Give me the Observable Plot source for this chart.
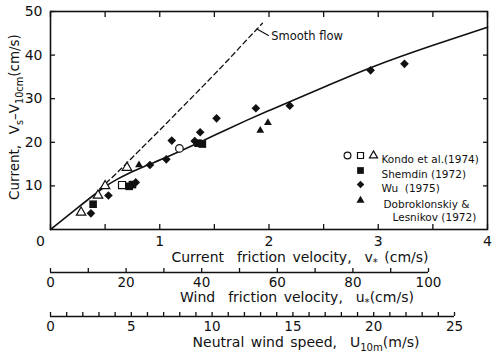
<!DOCTYPE html>
<html><head><meta charset="utf-8">
<script src="https://cdn.jsdelivr.net/npm/d3@7"></script>
<script src="https://cdn.jsdelivr.net/npm/@observablehq/plot@0.6"></script>
<style>
body{margin:0;background:#fff;}
#chart{width:500px;height:355px;}
#chart svg{display:block;}
</style></head><body><div id="chart"></div>
<script>
// ---- data ----
const kondoCircle = [[1.18, 18.6]];
const kondoSquare = [[0.655, 10.2]];
const kondoTriangle = [[0.28, 3.9], [0.435, 7.8], [0.50, 10.0], [0.70, 14.2]];
const shemdin = [[0.39, 5.8], [0.72, 9.9], [0.75, 10.3], [1.35, 19.8], [1.39, 19.6]];
const wu = [[0.37, 3.7], [0.53, 7.8], [0.78, 10.8], [0.91, 14.8], [1.06, 16.1], [1.11, 20.4],
            [1.32, 20.3], [1.37, 22.3], [1.52, 25.5], [1.88, 27.8], [2.19, 28.4], [2.93, 36.5], [3.24, 38.0]];
const dobroklonskiy = [[0.81, 14.8], [1.92, 22.7], [1.99, 24.5]];
const fitCurve = [[0, 0], [0.25, 5.0], [0.5, 10.0], [0.6, 11.4], [0.7, 12.7], [0.8, 13.8], [0.9, 14.9],
                  [1.0, 15.9], [1.2, 18.1], [1.4, 20.4], [1.6, 22.8], [1.8, 25.1], [2.0, 27.3], [2.2, 29.4],
                  [2.5, 32.6], [2.93, 37.3], [3.5, 42.3], [4.0, 46.4]];
const smoothFlow = [[0.45, 9.3], [0.6, 12.8], [0.8, 17.8], [1.0, 22.8], [1.2, 27.9], [1.4, 33.0],
                    [1.6, 38.2], [1.8, 43.6], [1.94, 47.3]];
const smoothLeader = [[1.89, 46.0], [1.995, 44.5]];
const smoothLabel = "Smooth flow";
const smoothLabelAt = [[2.02, 44.4]];

const xDomain = [0, 4];
const yDomain = [0, 50];
const xTickMarks = [0, 0.5, 1, 1.5, 2, 2.5, 3, 3.5, 4];
const xTickLabels = [1, 2, 3, 4];
const originLabel = [0];
const yTickLabels = [10, 20, 30, 40, 50];
const yTickMarksLeft = [10, 20, 30, 40, 50];
const yTickMarksRight = [10, 20, 30, 40];

const windDomain = [0, 100];
const windTicks = [0, 10, 20, 30, 40, 50, 60, 70, 80, 90, 100];
const windLabels = [0, 20, 40, 60, 80, 100];
const neutralDomain = [0, 25];
const neutralTicks = [0, 1, 2, 3, 4, 5, 6, 7, 8, 9, 10, 11, 12, 13, 14, 15, 16, 17, 18, 19, 20, 21, 22, 23, 24, 25];
const neutralLabels = [0, 5, 10, 15, 20, 25];

const legendLabels = ["Kondo et al.(1974)", "Shemdin (1972)", "Wu  (1975)", "Dobroklonskiy &", "Lesnikov (1972)"];

// ---- styling ----
const FONT = "DejaVu Sans, Liberation Sans, sans-serif";
const INK = "#111";
const baseStyle = {fontFamily: FONT, fontSize: "14px", color: INK, background: "#fff", overflow: "visible"};

function addText(svg, x, y, parts, {size = 14, rotate = 0, anchor = "middle", wordSpacing = 2} = {}) {
  const t = d3.select(svg).append("text")
    .attr("transform", `translate(${x},${y}) rotate(${rotate})`)
    .attr("text-anchor", anchor)
    .attr("fill", INK)
    .style("font-family", FONT)
    .style("font-size", size + "px")
    .style("word-spacing", wordSpacing + "px")
    .attr("xml:space", "preserve");
  const subSize = size * 0.72;
  const shift = size * 0.3;
  let lowered = false;
  for (const [s, sub] of parts) {
    const sp = t.append("tspan").text(s);
    if (sub) {
      sp.style("font-size", subSize + "px").attr("dy", shift);
      lowered = true;
    } else if (lowered) {
      sp.attr("dy", -shift);
      lowered = false;
    }
  }
}

const legendRows = [144, 159, 173, 189, 202];

const main = Plot.plot({
  width: 500, height: 266,
  marginLeft: 50, marginRight: 13, marginTop: 11, marginBottom: 37,
  x: {domain: xDomain},
  y: {domain: yDomain},
  style: baseStyle,
  marks: [
    Plot.frame({stroke: INK, strokeWidth: 1.6}),
    Plot.axisX(xTickMarks, {anchor: "bottom", tickSize: -5, tickFormat: () => "", strokeWidth: 1.3}),
    Plot.axisX(xTickMarks, {anchor: "top", tickSize: -5, tickFormat: () => "", strokeWidth: 1.3}),
    Plot.axisX(xTickLabels, {anchor: "bottom", tickSize: 0, tickPadding: 7, label: null, fontSize: 14}),
    Plot.axisX(originLabel, {anchor: "bottom", tickSize: 0, tickPadding: 7, dx: -10, label: null, fontSize: 14}),
    Plot.axisY(yTickMarksLeft, {anchor: "left", tickSize: -5, tickFormat: () => "", strokeWidth: 1.3}),
    Plot.axisY(yTickMarksRight, {anchor: "right", tickSize: -5, tickFormat: () => "", strokeWidth: 1.3}),
    Plot.axisY(yTickLabels, {anchor: "left", tickSize: 0, tickPadding: 8, label: null, fontSize: 14}),
    Plot.line(fitCurve, {x: d => d[0], y: d => d[1], stroke: INK, strokeWidth: 1.6, curve: "basis"}),
    Plot.line(smoothFlow, {x: d => d[0], y: d => d[1], stroke: INK, strokeWidth: 1.3, strokeDasharray: "5,3.5", curve: "monotone-x"}),
    Plot.line(smoothLeader, {x: d => d[0], y: d => d[1], stroke: INK, strokeWidth: 1.2}),
    Plot.text(smoothLabelAt, {x: d => d[0], y: d => d[1], text: () => smoothLabel, textAnchor: "start", fontSize: 11.5, fill: INK}),
    // data points
    Plot.dot(kondoTriangle, {x: d => d[0], y: d => d[1], symbol: "triangle", r: 3.5, stroke: INK, strokeWidth: 1.2, fill: "#fff"}),
    Plot.dot(kondoSquare, {x: d => d[0], y: d => d[1], symbol: "square", r: 4.0, stroke: INK, strokeWidth: 1.2, fill: "#fff"}),
    Plot.dot(kondoCircle, {x: d => d[0], y: d => d[1], symbol: "circle", r: 3.8, stroke: INK, strokeWidth: 1.2, fill: "#fff"}),
    Plot.dot(shemdin, {x: d => d[0], y: d => d[1], symbol: "square", r: 4.3, fill: INK}),
    Plot.dot(wu, {x: d => d[0], y: d => d[1], symbol: "diamond2", r: 3.9, fill: INK}),
    Plot.dot(dobroklonskiy, {x: d => d[0], y: d => d[1], symbol: "triangle", r: 2.9, fill: INK}),
    // legend
    Plot.dot([0], {frameAnchor: "top-left", dx: 297, dy: legendRows[0], symbol: "circle", r: 3.4, stroke: INK, strokeWidth: 1.2, fill: "#fff"}),
    Plot.dot([0], {frameAnchor: "top-left", dx: 310, dy: legendRows[0], symbol: "square", r: 3.4, stroke: INK, strokeWidth: 1.2, fill: "#fff"}),
    Plot.dot([0], {frameAnchor: "top-left", dx: 323, dy: legendRows[0], symbol: "triangle", r: 3.0, stroke: INK, strokeWidth: 1.2, fill: "#fff"}),
    Plot.dot([0], {frameAnchor: "top-left", dx: 310, dy: legendRows[1], symbol: "square", r: 3.8, fill: INK}),
    Plot.dot([0], {frameAnchor: "top-left", dx: 310, dy: legendRows[2], symbol: "diamond2", r: 3.4, fill: INK}),
    Plot.dot([0], {frameAnchor: "top-left", dx: 310, dy: legendRows[3], symbol: "triangle", r: 3.0, fill: INK}),
    Plot.text([legendLabels[0]], {frameAnchor: "top-left", dx: 331, dy: legendRows[0], text: d => d, textAnchor: "start", fontSize: 10.5, fill: INK}),
    Plot.text([legendLabels[1]], {frameAnchor: "top-left", dx: 331, dy: legendRows[1], text: d => d, textAnchor: "start", fontSize: 10.5, fill: INK}),
    Plot.text([legendLabels[2]], {frameAnchor: "top-left", dx: 331, dy: legendRows[2], text: d => d, textAnchor: "start", fontSize: 10.5, fill: INK}),
    Plot.text([legendLabels[3]], {frameAnchor: "top-left", dx: 333, dy: legendRows[3], text: d => d, textAnchor: "start", fontSize: 10.5, fill: INK}),
    Plot.text([legendLabels[4]], {frameAnchor: "top-left", dx: 342, dy: legendRows[4], text: d => d, textAnchor: "start", fontSize: 10.5, fill: INK})
  ]
});
addText(main, 300, 262, [["Current  friction velocity,  v"], ["*", true], [" (cm/s)"]]);
addText(main, 19, 117, [["Current,  V"], ["s", true], ["\u2013V"], ["10cm", true], ["(cm/s)"]], {rotate: -90, size: 13.5, wordSpacing: 1});

function secondaryAxis(domain, ticks, labels, marginRight, height, title, titleX, titleY) {
  const p = Plot.plot({
    width: 500, height,
    marginLeft: 50, marginRight, marginTop: 2, marginBottom: height - 6,
    x: {domain},
    y: {domain: [0, 1], axis: null},
    style: baseStyle,
    marks: [
      Plot.ruleY([0], {x1: domain[0], x2: domain[1], stroke: INK, strokeWidth: 1.6}),
      Plot.axisX(ticks, {anchor: "bottom", tickSize: -4, tickFormat: () => "", strokeWidth: 1.3}),
      Plot.axisX(labels, {anchor: "bottom", tickSize: 0, tickPadding: 5, label: null, fontSize: 13.5})
    ]
  });
  addText(p, titleX, titleY, title);
  return p;
}

const wind = secondaryAxis(windDomain, windTicks, windLabels, 72, 44,
  [["Wind  friction velocity,  u"], ["*", true], ["(cm/s)"]], 297, 36);
const neutral = secondaryAxis(neutralDomain, neutralTicks, neutralLabels, 46, 45,
  [["Neutral wind speed,  U"], ["10m", true], ["(m/s)"]], 306, 37);

const root = document.getElementById("chart");
root.append(main, wind, neutral);
</script>
</body></html>
